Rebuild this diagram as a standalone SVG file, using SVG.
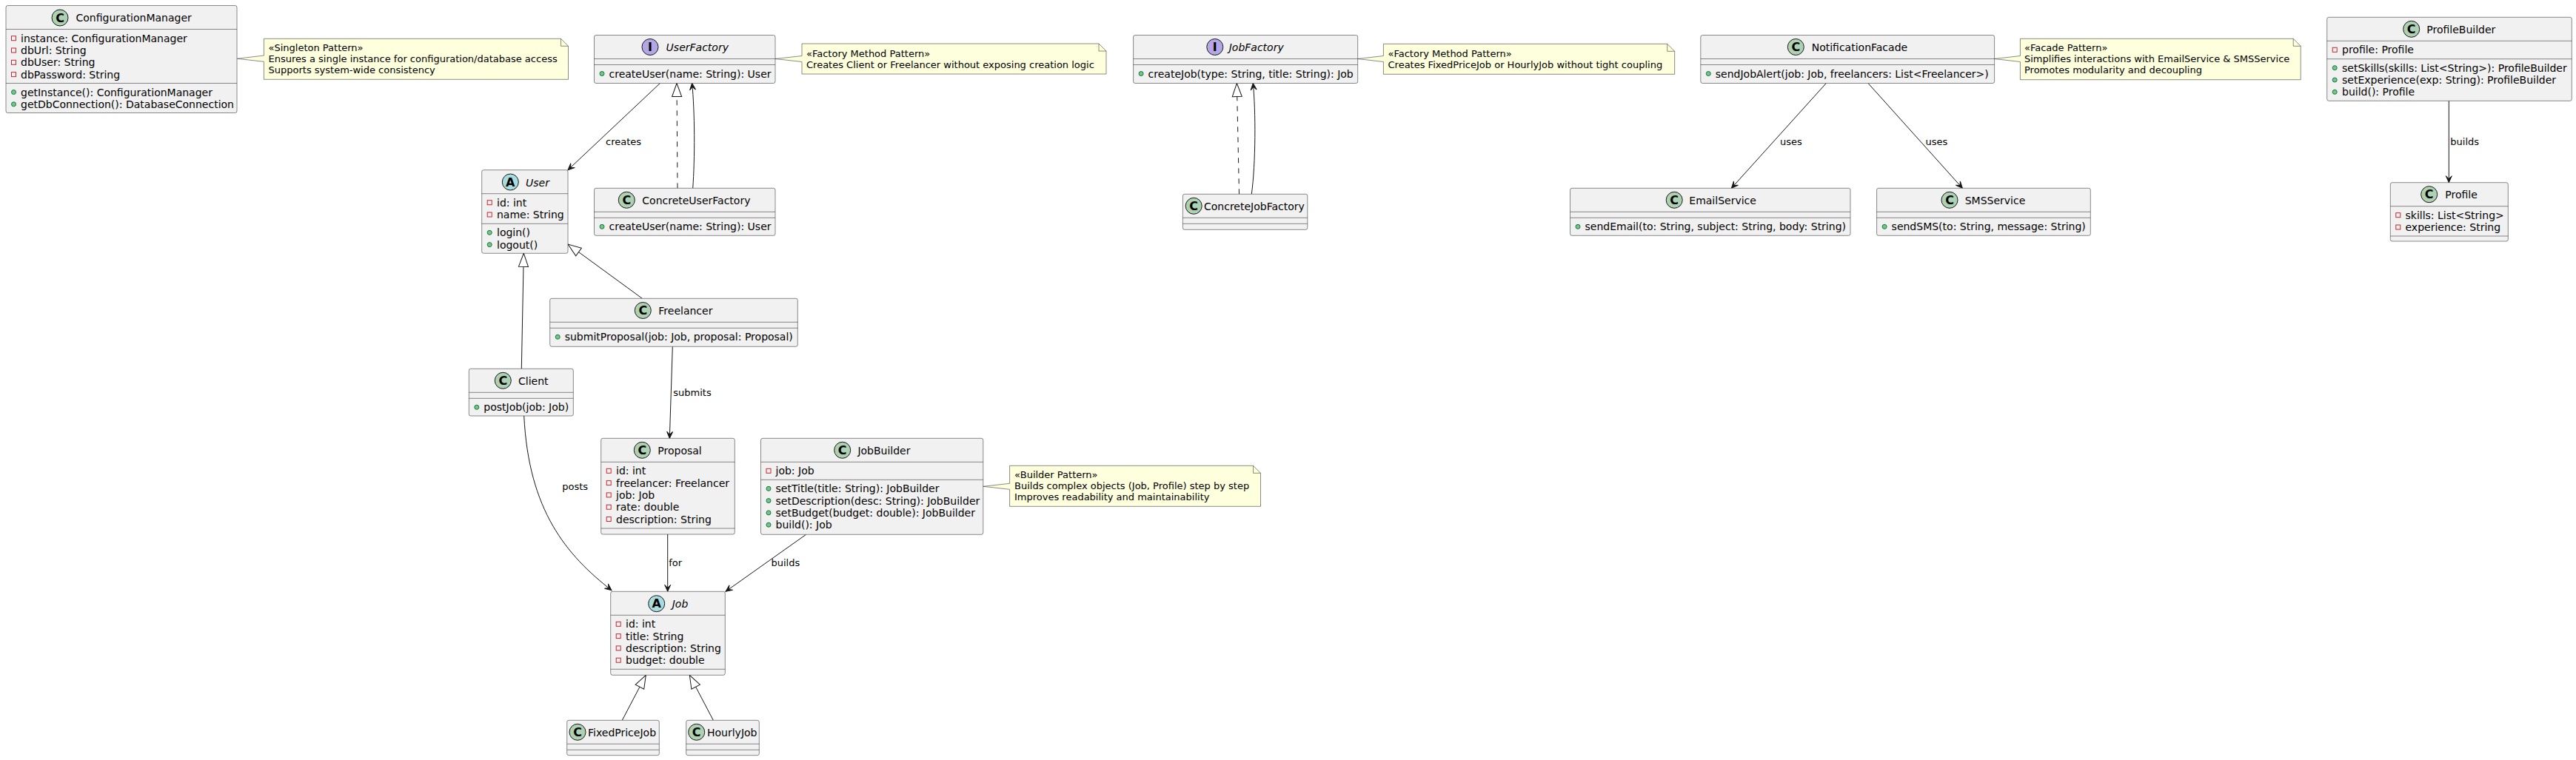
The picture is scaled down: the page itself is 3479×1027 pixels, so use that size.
<svg xmlns="http://www.w3.org/2000/svg" width="3479" height="1027" viewBox="0 0 3479 1027">
<style>
.box{fill:#F1F1F1;stroke:#181818;stroke-width:0.5}
.sep{stroke:#181818;stroke-width:0.5}
.t{font-family:"DejaVu Sans",sans-serif;font-size:14px;fill:#000}
.i{font-style:italic}
.n{font-family:"DejaVu Sans",sans-serif;font-size:13px;fill:#000}
.note{fill:#FEFFDD;stroke:#181818;stroke-width:0.5}
.fold{fill:none;stroke:#181818;stroke-width:0.5}
.edge{fill:none;stroke:#181818;stroke-width:1}
.dash{stroke-dasharray:7,7}
.priv{fill:none;stroke:#C82930;stroke-width:1}
.pub{fill:#84BE84;stroke:#038048;stroke-width:1}
.sC{fill:#ADD1B2;stroke:#181818;stroke-width:1}
.sA{fill:#A9DCDF;stroke:#181818;stroke-width:1}
.sI{fill:#B4A7E5;stroke:#181818;stroke-width:1}
.sl{font-family:"DejaVu Sans",sans-serif;font-size:16px;font-weight:bold;text-anchor:middle;fill:#000}
</style>
<defs>
<marker id="arr" markerUnits="userSpaceOnUse" markerWidth="12" markerHeight="12" viewBox="0 0 12 12" refX="10" refY="6" orient="auto"><path d="M10,6 L1,2 L5,6 L1,10 Z" fill="#181818" stroke="#181818" stroke-width="1" stroke-dasharray="none"/></marker>
<marker id="tri" markerUnits="userSpaceOnUse" markerWidth="22" markerHeight="16" viewBox="0 0 22 16" refX="20" refY="8" orient="auto"><path d="M20,8 L2,1.5 L2,14.5 Z" fill="#FFFFFF" stroke="#181818" stroke-width="1" stroke-dasharray="none"/></marker>
</defs>
<rect x="0" y="0" width="3479" height="1027" fill="#FFFFFF"/>

<g id="connectors">
<path class="edge" d="M891.4,112.5 L767,229.7" marker-end="url(#arr)"/>
<path class="edge dash" d="M915,254.3 L914,112.5" marker-end="url(#tri)"/>
<path class="edge" d="M935.7,254.3 C938.5,215 938.5,150 934.6,112.5" marker-end="url(#arr)"/>
<path class="edge" d="M867.3,403.3 L767,330" marker-end="url(#tri)"/>
<path class="edge" d="M704.3,498.3 L707.3,342.3" marker-end="url(#tri)"/>
<path class="edge" d="M908.3,468.3 L904.3,592.3" marker-end="url(#arr)"/>
<path class="edge" d="M707.7,562 C714,690 765,750 826,797.7" marker-end="url(#arr)"/>
<path class="edge" d="M901.7,722 L901.7,799.3" marker-end="url(#arr)"/>
<path class="edge" d="M1088.6,722.3 L980,799.3" marker-end="url(#arr)"/>
<path class="edge" d="M840.3,973.3 L872.3,912.3" marker-end="url(#tri)"/>
<path class="edge" d="M963.3,973.3 L931.3,912.3" marker-end="url(#tri)"/>
<path class="edge dash" d="M1673.5,262.3 L1670.4,112.5" marker-end="url(#tri)"/>
<path class="edge" d="M1690.3,262.3 C1696,220 1696,150 1692.3,112.5" marker-end="url(#arr)"/>
<path class="edge" d="M2466.3,112.5 L2338.4,254.3" marker-end="url(#arr)"/>
<path class="edge" d="M2523,112.5 L2650.4,254.3" marker-end="url(#arr)"/>
<path class="edge" d="M3307.3,136.3 L3307.3,246.7" marker-end="url(#arr)"/>
<text class="n" x="818" y="196">creates</text>
<text class="n" x="909.3" y="534.8">submits</text>
<text class="n" x="759.3" y="662">posts</text>
<text class="n" x="903.3" y="764.8">for</text>
<text class="n" x="1041.5" y="765">builds</text>
<text class="n" x="2404" y="196">uses</text>
<text class="n" x="2600.4" y="196">uses</text>
<text class="n" x="3309.3" y="196">builds</text>
</g>

<g id="ConfigurationManager">
<rect class="box" x="8" y="7.5" width="312" height="145" rx="2.5"/>
<line class="sep" x1="8" y1="39.5" x2="320" y2="39.5"/>
<line class="sep" x1="8" y1="112.5" x2="320" y2="112.5"/>
<circle class="sC" cx="81" cy="24" r="11"/><text class="sl" x="81" y="29.5">C</text>
<text class="t" x="102.5" y="29">ConfigurationManager</text>
<rect class="priv" x="15.5" y="48.7" width="6" height="6"/><text class="t" x="28" y="56.7">instance: ConfigurationManager</text>
<rect class="priv" x="15.5" y="65" width="6" height="6"/><text class="t" x="28" y="73">dbUrl: String</text>
<rect class="priv" x="15.5" y="81.3" width="6" height="6"/><text class="t" x="28" y="89.3">dbUser: String</text>
<rect class="priv" x="15.5" y="97.6" width="6" height="6"/><text class="t" x="28" y="105.6">dbPassword: String</text>
<circle class="pub" cx="18.5" cy="124.5" r="3"/><text class="t" x="28" y="129.5">getInstance(): ConfigurationManager</text>
<circle class="pub" cx="18.5" cy="140.8" r="3"/><text class="t" x="28" y="145.8">getDbConnection(): DatabaseConnection</text>
</g>

<g id="note-singleton">
<path class="note" d="M356.4,52.3 L356.4,75 L320.4,79.3 L356.4,83.3 L356.4,107.3 L767.5,107.3 L767.5,62.3 L757.5,52.3 Z"/>
<path class="fold" d="M757.5,52.3 L757.5,62.3 L767.5,62.3"/>
<text class="n" x="362.5" y="68.8">«Singleton Pattern»</text>
<text class="n" x="362.5" y="84">Ensures a single instance for configuration/database access</text>
<text class="n" x="362.5" y="99.2">Supports system-wide consistency</text>
</g>

<g id="UserFactory">
<rect class="box" x="802.5" y="47.5" width="244.5" height="65" rx="2.5"/>
<line class="sep" x1="802.5" y1="79.5" x2="1047" y2="79.5"/>
<line class="sep" x1="802.5" y1="87.5" x2="1047" y2="87.5"/>
<circle class="sI" cx="878" cy="63.5" r="11"/><text class="sl" x="878" y="69">I</text>
<text class="t i" x="899.6" y="69">UserFactory</text>
<circle class="pub" cx="813" cy="99.5" r="3"/><text class="t" x="822.5" y="104.5">createUser(name: String): User</text>
</g>

<g id="note-userfactory">
<path class="note" d="M1083,59 L1083,75.5 L1047,79.5 L1083,83.5 L1083,100 L1494,100 L1494,69 L1484,59 Z"/>
<path class="fold" d="M1484,59 L1484,69 L1494,69"/>
<text class="n" x="1089" y="76.5">«Factory Method Pattern»</text>
<text class="n" x="1089" y="91.7">Creates Client or Freelancer without exposing creation logic</text>
</g>

<g id="User">
<rect class="box" x="650.7" y="229.7" width="116.3" height="112.6" rx="2.5"/>
<line class="sep" x1="650.7" y1="261.7" x2="767" y2="261.7"/>
<line class="sep" x1="650.7" y1="302.3" x2="767" y2="302.3"/>
<circle class="sA" cx="689.3" cy="246" r="11"/><text class="sl" x="689.3" y="251.5">A</text>
<text class="t i" x="710" y="251.5">User</text>
<rect class="priv" x="658.2" y="270.7" width="6" height="6"/><text class="t" x="671" y="278.7">id: int</text>
<rect class="priv" x="658.2" y="287" width="6" height="6"/><text class="t" x="671" y="295">name: String</text>
<circle class="pub" cx="661.2" cy="314.3" r="3"/><text class="t" x="671" y="319.3">login()</text>
<circle class="pub" cx="661.2" cy="330.6" r="3"/><text class="t" x="671" y="335.6">logout()</text>
</g>

<g id="ConcreteUserFactory">
<rect class="box" x="802.5" y="254.3" width="244.5" height="64" rx="2.5"/>
<line class="sep" x1="802.5" y1="286.3" x2="1047" y2="286.3"/>
<line class="sep" x1="802.5" y1="294.3" x2="1047" y2="294.3"/>
<circle class="sC" cx="846.3" cy="270.3" r="11"/><text class="sl" x="846.3" y="275.8">C</text>
<text class="t" x="867.3" y="275.8">ConcreteUserFactory</text>
<circle class="pub" cx="813" cy="306.3" r="3"/><text class="t" x="822.5" y="311.3">createUser(name: String): User</text>
</g>

<g id="Freelancer">
<rect class="box" x="742.7" y="403.3" width="334.6" height="65" rx="2.5"/>
<line class="sep" x1="742.7" y1="435.3" x2="1077.3" y2="435.3"/>
<line class="sep" x1="742.7" y1="443.3" x2="1077.3" y2="443.3"/>
<circle class="sC" cx="868.3" cy="419.5" r="11"/><text class="sl" x="868.3" y="425">C</text>
<text class="t" x="889.3" y="425">Freelancer</text>
<circle class="pub" cx="753.2" cy="455.3" r="3"/><text class="t" x="762.7" y="460.3">submitProposal(job: Job, proposal: Proposal)</text>
</g>

<g id="Client">
<rect class="box" x="633.3" y="498.3" width="141" height="63.7" rx="2.5"/>
<line class="sep" x1="633.3" y1="530.3" x2="774.3" y2="530.3"/>
<line class="sep" x1="633.3" y1="538.3" x2="774.3" y2="538.3"/>
<circle class="sC" cx="679.3" cy="514.3" r="11"/><text class="sl" x="679.3" y="519.8">C</text>
<text class="t" x="700" y="519.8">Client</text>
<circle class="pub" cx="643.8" cy="550.3" r="3"/><text class="t" x="653.3" y="555.3">postJob(job: Job)</text>
</g>

<g id="Proposal">
<rect class="box" x="811.7" y="592.3" width="180.6" height="129.7" rx="2.5"/>
<line class="sep" x1="811.7" y1="624.3" x2="992.3" y2="624.3"/>
<line class="sep" x1="811.7" y1="714" x2="992.3" y2="714"/>
<circle class="sC" cx="867.3" cy="608.3" r="11"/><text class="sl" x="867.3" y="613.8">C</text>
<text class="t" x="888.3" y="613.8">Proposal</text>
<rect class="priv" x="819.2" y="633.3" width="6" height="6"/><text class="t" x="832" y="641.3">id: int</text>
<rect class="priv" x="819.2" y="649.6" width="6" height="6"/><text class="t" x="832" y="657.6">freelancer: Freelancer</text>
<rect class="priv" x="819.2" y="665.9" width="6" height="6"/><text class="t" x="832" y="673.9">job: Job</text>
<rect class="priv" x="819.2" y="682.2" width="6" height="6"/><text class="t" x="832" y="690.2">rate: double</text>
<rect class="priv" x="819.2" y="698.5" width="6" height="6"/><text class="t" x="832" y="706.5">description: String</text>
</g>

<g id="JobBuilder">
<rect class="box" x="1027.5" y="592.3" width="300.3" height="130" rx="2.5"/>
<line class="sep" x1="1027.5" y1="624.3" x2="1327.8" y2="624.3"/>
<line class="sep" x1="1027.5" y1="648.3" x2="1327.8" y2="648.3"/>
<circle class="sC" cx="1137.7" cy="608.3" r="11"/><text class="sl" x="1137.7" y="613.8">C</text>
<text class="t" x="1158.4" y="613.8">JobBuilder</text>
<rect class="priv" x="1035" y="633.3" width="6" height="6"/><text class="t" x="1047.5" y="641.3">job: Job</text>
<circle class="pub" cx="1038" cy="660.3" r="3"/><text class="t" x="1047.5" y="665.3">setTitle(title: String): JobBuilder</text>
<circle class="pub" cx="1038" cy="676.6" r="3"/><text class="t" x="1047.5" y="681.6">setDescription(desc: String): JobBuilder</text>
<circle class="pub" cx="1038" cy="692.9" r="3"/><text class="t" x="1047.5" y="697.9">setBudget(budget: double): JobBuilder</text>
<circle class="pub" cx="1038" cy="709.2" r="3"/><text class="t" x="1047.5" y="714.2">build(): Job</text>
</g>

<g id="note-builder">
<path class="note" d="M1363.6,629.3 L1363.6,653.3 L1327.8,657.3 L1363.6,661.3 L1363.6,684.3 L1702.5,684.3 L1702.5,639.3 L1692.5,629.3 Z"/>
<path class="fold" d="M1692.5,629.3 L1692.5,639.3 L1702.5,639.3"/>
<text class="n" x="1370" y="645.8">«Builder Pattern»</text>
<text class="n" x="1370" y="661">Builds complex objects (Job, Profile) step by step</text>
<text class="n" x="1370" y="676.2">Improves readability and maintainability</text>
</g>

<g id="Job">
<rect class="box" x="824.7" y="799.3" width="154.6" height="113" rx="2.5"/>
<line class="sep" x1="824.7" y1="831.3" x2="979.3" y2="831.3"/>
<line class="sep" x1="824.7" y1="904.3" x2="979.3" y2="904.3"/>
<circle class="sA" cx="886.7" cy="815.7" r="11"/><text class="sl" x="886.7" y="821.2">A</text>
<text class="t i" x="907.7" y="821.2">Job</text>
<rect class="priv" x="832.2" y="840.3" width="6" height="6"/><text class="t" x="845" y="848.3">id: int</text>
<rect class="priv" x="832.2" y="856.6" width="6" height="6"/><text class="t" x="845" y="864.6">title: String</text>
<rect class="priv" x="832.2" y="872.9" width="6" height="6"/><text class="t" x="845" y="880.9">description: String</text>
<rect class="priv" x="832.2" y="889.2" width="6" height="6"/><text class="t" x="845" y="897.2">budget: double</text>
</g>

<g id="FixedPriceJob">
<rect class="box" x="765.7" y="973.3" width="124.6" height="47.4" rx="2.5"/>
<line class="sep" x1="765.7" y1="1005.3" x2="890.3" y2="1005.3"/>
<line class="sep" x1="765.7" y1="1013.3" x2="890.3" y2="1013.3"/>
<circle class="sC" cx="780" cy="989.3" r="11"/><text class="sl" x="780" y="994.8">C</text>
<text class="t" x="794" y="994.8">FixedPriceJob</text>
</g>

<g id="HourlyJob">
<rect class="box" x="926.7" y="973.3" width="98.6" height="47.4" rx="2.5"/>
<line class="sep" x1="926.7" y1="1005.3" x2="1025.3" y2="1005.3"/>
<line class="sep" x1="926.7" y1="1013.3" x2="1025.3" y2="1013.3"/>
<circle class="sC" cx="940.7" cy="989.3" r="11"/><text class="sl" x="940.7" y="994.8">C</text>
<text class="t" x="955" y="994.8">HourlyJob</text>
</g>

<g id="JobFactory">
<rect class="box" x="1530.6" y="47.5" width="303.1" height="65" rx="2.5"/>
<line class="sep" x1="1530.6" y1="79.5" x2="1833.7" y2="79.5"/>
<line class="sep" x1="1530.6" y1="87.5" x2="1833.7" y2="87.5"/>
<circle class="sI" cx="1640.8" cy="63.5" r="11"/><text class="sl" x="1640.8" y="69">I</text>
<text class="t i" x="1659.7" y="69">JobFactory</text>
<circle class="pub" cx="1541.1" cy="99.5" r="3"/><text class="t" x="1550.6" y="104.5">createJob(type: String, title: String): Job</text>
</g>

<g id="note-jobfactory">
<path class="note" d="M1868.4,59.3 L1868.4,75.5 L1833.7,79.5 L1868.4,83.5 L1868.4,100.3 L2261.7,100.3 L2261.7,69.3 L2251.7,59.3 Z"/>
<path class="fold" d="M2251.7,59.3 L2251.7,69.3 L2261.7,69.3"/>
<text class="n" x="1874.5" y="76.8">«Factory Method Pattern»</text>
<text class="n" x="1874.5" y="92">Creates FixedPriceJob or HourlyJob without tight coupling</text>
</g>

<g id="ConcreteJobFactory">
<rect class="box" x="1597.4" y="262.3" width="168.4" height="48" rx="2.5"/>
<line class="sep" x1="1597.4" y1="294.3" x2="1765.8" y2="294.3"/>
<line class="sep" x1="1597.4" y1="302.3" x2="1765.8" y2="302.3"/>
<circle class="sC" cx="1612.2" cy="278.3" r="11"/><text class="sl" x="1612.2" y="283.8">C</text>
<text class="t" x="1626" y="283.8">ConcreteJobFactory</text>
</g>

<g id="NotificationFacade">
<rect class="box" x="2296.8" y="47.5" width="396.8" height="65" rx="2.5"/>
<line class="sep" x1="2296.8" y1="79.5" x2="2693.6" y2="79.5"/>
<line class="sep" x1="2296.8" y1="87.5" x2="2693.6" y2="87.5"/>
<circle class="sC" cx="2425.3" cy="63.5" r="11"/><text class="sl" x="2425.3" y="69">C</text>
<text class="t" x="2446.7" y="69">NotificationFacade</text>
<circle class="pub" cx="2307.3" cy="99.5" r="3"/><text class="t" x="2316.8" y="104.5">sendJobAlert(job: Job, freelancers: List&lt;Freelancer&gt;)</text>
</g>

<g id="note-facade">
<path class="note" d="M2728.4,52.3 L2728.4,75.5 L2693.6,79.5 L2728.4,83.5 L2728.4,107.7 L3107.2,107.7 L3107.2,62.3 L3097.2,52.3 Z"/>
<path class="fold" d="M3097.2,52.3 L3097.2,62.3 L3107.2,62.3"/>
<text class="n" x="2734" y="68.8">«Facade Pattern»</text>
<text class="n" x="2734" y="84">Simplifies interactions with EmailService &amp; SMSService</text>
<text class="n" x="2734" y="99.2">Promotes modularity and decoupling</text>
</g>

<g id="EmailService">
<rect class="box" x="2120.5" y="254.3" width="378.5" height="64" rx="2.5"/>
<line class="sep" x1="2120.5" y1="286.3" x2="2499" y2="286.3"/>
<line class="sep" x1="2120.5" y1="294.3" x2="2499" y2="294.3"/>
<circle class="sC" cx="2261.2" cy="270.3" r="11"/><text class="sl" x="2261.2" y="275.8">C</text>
<text class="t" x="2281.3" y="275.8">EmailService</text>
<circle class="pub" cx="2131" cy="306.3" r="3"/><text class="t" x="2140.5" y="311.3">sendEmail(to: String, subject: String, body: String)</text>
</g>

<g id="SMSService">
<rect class="box" x="2534.6" y="254.3" width="288.7" height="64" rx="2.5"/>
<line class="sep" x1="2534.6" y1="286.3" x2="2823.3" y2="286.3"/>
<line class="sep" x1="2534.6" y1="294.3" x2="2823.3" y2="294.3"/>
<circle class="sC" cx="2633" cy="270.3" r="11"/><text class="sl" x="2633" y="275.8">C</text>
<text class="t" x="2653.7" y="275.8">SMSService</text>
<circle class="pub" cx="2545.1" cy="306.3" r="3"/><text class="t" x="2554.6" y="311.3">sendSMS(to: String, message: String)</text>
</g>

<g id="ProfileBuilder">
<rect class="box" x="3142.7" y="23.3" width="330.6" height="113" rx="2.5"/>
<line class="sep" x1="3142.7" y1="55.3" x2="3473.3" y2="55.3"/>
<line class="sep" x1="3142.7" y1="79.7" x2="3473.3" y2="79.7"/>
<circle class="sC" cx="3256.7" cy="39.3" r="11"/><text class="sl" x="3256.7" y="44.8">C</text>
<text class="t" x="3277.3" y="44.8">ProfileBuilder</text>
<rect class="priv" x="3150.2" y="64.3" width="6" height="6"/><text class="t" x="3163" y="72.3">profile: Profile</text>
<circle class="pub" cx="3153.2" cy="91.7" r="3"/><text class="t" x="3163" y="96.7">setSkills(skills: List&lt;String&gt;): ProfileBuilder</text>
<circle class="pub" cx="3153.2" cy="108" r="3"/><text class="t" x="3163" y="113">setExperience(exp: String): ProfileBuilder</text>
<circle class="pub" cx="3153.2" cy="124.3" r="3"/><text class="t" x="3163" y="129.3">build(): Profile</text>
</g>

<g id="Profile">
<rect class="box" x="3228.3" y="246.7" width="159" height="79.3" rx="2.5"/>
<line class="sep" x1="3228.3" y1="278.7" x2="3387.3" y2="278.7"/>
<line class="sep" x1="3228.3" y1="319" x2="3387.3" y2="319"/>
<circle class="sC" cx="3280.7" cy="262.7" r="11"/><text class="sl" x="3280.7" y="268.2">C</text>
<text class="t" x="3302.3" y="268.2">Profile</text>
<rect class="priv" x="3235.8" y="287.7" width="6" height="6"/><text class="t" x="3248.5" y="295.7">skills: List&lt;String&gt;</text>
<rect class="priv" x="3235.8" y="304" width="6" height="6"/><text class="t" x="3248.5" y="312">experience: String</text>
</g>
</svg>
